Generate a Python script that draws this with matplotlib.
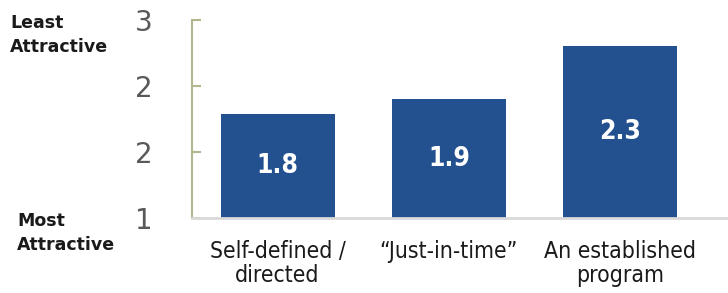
import matplotlib.pyplot as plt
from matplotlib.ticker import FixedLocator, FixedFormatter

plt.rcParams['font.family'] = ['DejaVu Sans']

# data
categories = ["Self-defined /\ndirected", "\u201cJust-in-time\u201d", "An established\nprogram"]
scores = [1.79, 1.90, 2.30]
value_labels = ["1.8", "1.9", "2.3"]
ytick_values = [1.0, 1.5, 2.0, 2.5]
ytick_labels = ["1", "2", "2", "3"]

bar_color = "#23518f"

fig = plt.figure(figsize=(7.28, 2.93), dpi=100)
ax = fig.add_axes([192 / 728, 1 - 218 / 293, 1 - 192 / 728, (218 - 20) / 293])

x = list(range(len(categories)))
bars = ax.bar(x, [s - 1.0 for s in scores], bottom=1.0, width=0.667, color=bar_color)

for b, lab in zip(bars, value_labels):
    mid = b.get_y() + b.get_height() / 2
    ax.text(b.get_x() + b.get_width() / 2, mid, lab, ha="center", va="center",
            color="white", fontsize=19, fontweight="bold", fontstretch="condensed")

ax.set_xlim(-0.5, 2.63)
ax.set_ylim(1.0, 2.5)
ax.set_xticks(x)
ax.set_xticklabels(categories, fontsize=16.5, color="#1a1a1a", linespacing=1.05,
                   fontstretch="condensed")
ax.tick_params(axis="x", length=0, pad=16)
ax.yaxis.set_major_locator(FixedLocator(ytick_values))
ax.yaxis.set_major_formatter(FixedFormatter(ytick_labels))
ax.tick_params(axis="y", direction="in", length=6.5, width=1.5, color="#b3b68c",
               labelsize=20, labelcolor="#595959", pad=28)

for s in ["top", "right"]:
    ax.spines[s].set_visible(False)
ax.spines["left"].set_color("#b3b68c")
ax.spines["left"].set_linewidth(1.5)
ax.spines["bottom"].set_color("#d9d9d9")
ax.spines["bottom"].set_linewidth(2)

fig.text(10 / 728, 1 - 14 / 293, "Least\nAttractive", ha="left", va="top",
         fontsize=12.5, fontweight="bold", color="#1a1a1a", linespacing=1.45)
fig.text(17 / 728, 1 - 212 / 293, "Most\nAttractive", ha="left", va="top",
         fontsize=12.5, fontweight="bold", color="#1a1a1a", linespacing=1.45)

fig.savefig("out.png", dpi=100)
